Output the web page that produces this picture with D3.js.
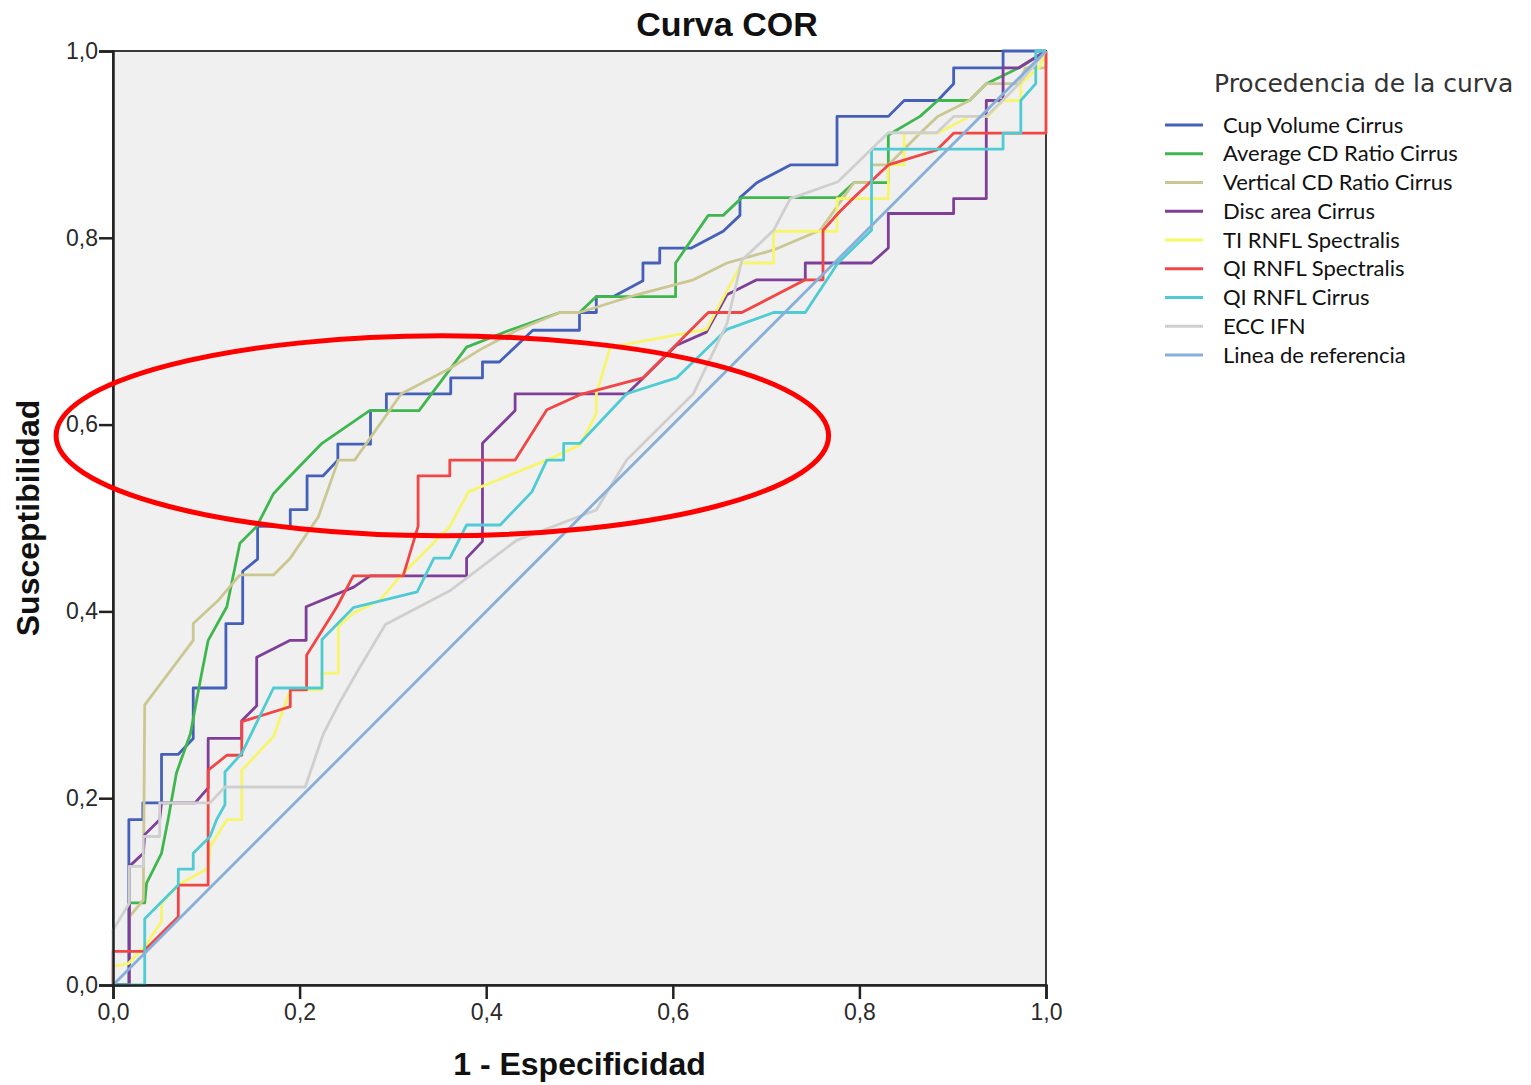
<!DOCTYPE html>
<html lang="es">
<head>
<meta charset="utf-8">
<title>Curva COR</title>
<script src="https://cdn.jsdelivr.net/npm/d3@7"></script>
<style>
    body { margin: 0; background: #ffffff; }
    svg { display: block; }
</style>
</head>
<body>
<script>
    // tick values of both axes
    var xTicks = [0, 0.2, 0.4, 0.6, 0.8, 1.0];
    var yTicks = [0, 0.2, 0.4, 0.6, 0.8, 1.0];

    var seriesNames = [
        "Cup Volume Cirrus",
        "Average CD Ratio Cirrus",
        "Vertical CD Ratio Cirrus",
        "Disc area Cirrus",
        "TI RNFL Spectralis",
        "QI RNFL Spectralis",
        "QI RNFL Cirrus",
        "ECC IFN",
        "Linea de referencia"
    ];

    // [1 - especificidad, susceptibilidad]
    var cupVolume = [[0,0],[0.017,0],[0.017,0.177],[0.032,0.177],[0.032,0.195],[0.052,0.195],[0.052,0.247],[0.070,0.247],[0.086,0.264],[0.086,0.318],[0.121,0.318],[0.121,0.387],[0.139,0.387],[0.139,0.443],[0.155,0.456],[0.155,0.491],[0.190,0.491],[0.190,0.509],[0.208,0.509],[0.208,0.545],[0.225,0.545],[0.241,0.562],[0.241,0.579],[0.276,0.579],[0.276,0.615],[0.293,0.615],[0.293,0.633],[0.362,0.633],[0.362,0.650],[0.396,0.650],[0.396,0.667],[0.414,0.667],[0.450,0.701],[0.500,0.701],[0.500,0.720],[0.518,0.720],[0.518,0.737],[0.536,0.737],[0.568,0.754],[0.568,0.773],[0.586,0.773],[0.586,0.789],[0.620,0.789],[0.654,0.807],[0.672,0.824],[0.672,0.843],[0.690,0.859],[0.726,0.878],[0.776,0.878],[0.776,0.930],[0.831,0.930],[0.848,0.947],[0.884,0.947],[0.901,0.965],[0.901,0.982],[0.954,0.982],[0.954,1],[1,1]];
    var averageCD = [[0,0],[0.0175,0],[0.0175,0.088],[0.034,0.088],[0.036,0.109],[0.052,0.141],[0.059,0.177],[0.068,0.227],[0.083,0.269],[0.093,0.323],[0.102,0.369],[0.122,0.405],[0.136,0.473],[0.154,0.491],[0.172,0.526],[0.186,0.541],[0.224,0.580],[0.275,0.615],[0.328,0.615],[0.379,0.683],[0.425,0.701],[0.479,0.720],[0.500,0.720],[0.518,0.737],[0.603,0.737],[0.603,0.773],[0.638,0.824],[0.654,0.824],[0.674,0.843],[0.777,0.843],[0.794,0.859],[0.831,0.859],[0.831,0.910],[0.865,0.930],[0.884,0.947],[0.918,0.947],[0.936,0.965],[0.971,0.982],[1,1]];
    var verticalCD = [[0,0],[0.0175,0],[0.0175,0.073],[0.0325,0.091],[0.034,0.300],[0.086,0.369],[0.086,0.387],[0.113,0.412],[0.136,0.439],[0.172,0.439],[0.190,0.457],[0.220,0.501],[0.2415,0.562],[0.259,0.562],[0.309,0.633],[0.361,0.660],[0.393,0.680],[0.433,0.701],[0.479,0.720],[0.500,0.720],[0.561,0.739],[0.622,0.755],[0.658,0.773],[0.708,0.787],[0.758,0.808],[0.794,0.859],[0.813,0.859],[0.813,0.878],[0.831,0.878],[0.865,0.912],[0.884,0.930],[0.918,0.947],[0.936,0.965],[0.971,0.965],[0.978,0.982],[1,0.982],[1,1]];
    var discArea = [[0,0],[0.0175,0],[0.0175,0.127],[0.0325,0.141],[0.034,0.161],[0.050,0.177],[0.052,0.195],[0.088,0.195],[0.102,0.211],[0.102,0.264],[0.138,0.264],[0.138,0.283],[0.154,0.299],[0.154,0.351],[0.190,0.369],[0.207,0.369],[0.207,0.405],[0.258,0.426],[0.2755,0.438],[0.379,0.438],[0.379,0.457],[0.396,0.475],[0.396,0.580],[0.431,0.615],[0.431,0.633],[0.551,0.633],[0.604,0.685],[0.636,0.699],[0.658,0.739],[0.690,0.755],[0.742,0.755],[0.742,0.773],[0.813,0.773],[0.831,0.789],[0.831,0.826],[0.901,0.826],[0.901,0.842],[0.936,0.842],[0.936,0.947],[0.954,0.947],[0.954,0.982],[0.971,0.982],[1,1]];
    var tiSpectralis = [[0,0],[0,0.020],[0.0165,0.023],[0.034,0.041],[0.052,0.068],[0.052,0.0875],[0.070,0.107],[0.102,0.125],[0.104,0.148],[0.122,0.177],[0.138,0.177],[0.138,0.230],[0.172,0.266],[0.190,0.316],[0.224,0.316],[0.224,0.334],[0.2415,0.334],[0.2415,0.384],[0.2575,0.398],[0.286,0.412],[0.3075,0.437],[0.361,0.491],[0.381,0.528],[0.465,0.562],[0.5005,0.578],[0.518,0.612],[0.518,0.633],[0.533,0.683],[0.636,0.702],[0.674,0.773],[0.708,0.773],[0.708,0.807],[0.776,0.807],[0.776,0.842],[0.831,0.842],[0.831,0.878],[0.848,0.878],[0.848,0.912],[0.884,0.912],[0.918,0.930],[0.938,0.930],[0.954,0.947],[0.973,0.947],[0.973,0.965],[0.993,0.983],[1,1]];
    var qiSpectralis = [[0,0],[0,0.036],[0.0325,0.036],[0.070,0.073],[0.070,0.107],[0.102,0.107],[0.102,0.230],[0.122,0.246],[0.138,0.246],[0.138,0.282],[0.190,0.298],[0.190,0.316],[0.2075,0.316],[0.2075,0.353],[0.240,0.405],[0.2575,0.438],[0.311,0.438],[0.327,0.491],[0.327,0.545],[0.361,0.545],[0.361,0.562],[0.431,0.562],[0.465,0.616],[0.5005,0.632],[0.568,0.650],[0.638,0.720],[0.674,0.720],[0.742,0.755],[0.761,0.755],[0.761,0.808],[0.777,0.826],[0.795,0.844],[0.831,0.878],[0.883,0.894],[0.901,0.912],[1,0.912],[1,1]];
    var qiCirrus = [[0,0],[0.034,0],[0.034,0.071],[0.070,0.107],[0.070,0.124],[0.086,0.124],[0.086,0.141],[0.104,0.159],[0.111,0.177],[0.120,0.193],[0.120,0.228],[0.138,0.248],[0.172,0.318],[0.224,0.318],[0.224,0.370],[0.2575,0.404],[0.326,0.421],[0.344,0.457],[0.361,0.457],[0.379,0.4925],[0.415,0.4925],[0.449,0.528],[0.465,0.562],[0.483,0.562],[0.483,0.580],[0.5005,0.580],[0.5505,0.633],[0.604,0.650],[0.658,0.702],[0.708,0.720],[0.742,0.720],[0.777,0.773],[0.813,0.808],[0.813,0.895],[0.954,0.895],[0.954,0.912],[0.973,0.912],[0.973,0.947],[0.989,0.965],[0.989,1],[1,1]];
    var eccIfn = [[0,0],[0,0.059],[0.0175,0.0875],[0.0175,0.127],[0.0325,0.127],[0.0325,0.159],[0.050,0.159],[0.050,0.195],[0.104,0.195],[0.120,0.212],[0.206,0.212],[0.2255,0.269],[0.2415,0.300],[0.265,0.341],[0.292,0.386],[0.361,0.422],[0.4325,0.476],[0.518,0.5085],[0.5505,0.562],[0.622,0.633],[0.658,0.708],[0.674,0.776],[0.708,0.808],[0.726,0.842],[0.777,0.860],[0.831,0.9125],[0.883,0.9125],[0.901,0.930],[0.936,0.930],[0.954,0.9475],[0.971,0.965],[1,1]];
    var referenceLine = [[0,0],[1,1]];

    var seriesData = [cupVolume, averageCD, verticalCD, discArea, tiSpectralis, qiSpectralis, qiCirrus, eccIfn, referenceLine];
    var seriesColors = ["#4560b9", "#3fb74e", "#cbc792", "#7f3f98", "#f7f56c", "#f24646", "#4ecbd3", "#cfcfcf", "#86afd9"];

    // red highlight ellipse, in chart units
    var highlight = { cx: 0.353, cy: 0.588, rx: 0.414, ry: 0.107 };

    var width = 1531;
    var height = 1085;
    var plot = { left: 113, right: 1046, top: 51, bottom: 985 };

    var x = d3.scaleLinear().domain([0, 1]).range([plot.left, plot.right]);
    var y = d3.scaleLinear().domain([0, 1]).range([plot.bottom, plot.top]);
    var fmt = function (d) { return d.toFixed(1).replace(".", ","); };

    var svg = d3.select("body").append("svg")
        .attr("width", width)
        .attr("height", height);

    svg.append("rect")
        .attr("x", plot.left)
        .attr("y", plot.top)
        .attr("width", plot.right - plot.left)
        .attr("height", plot.bottom - plot.top)
        .attr("fill", "#f0f0f0")
        .attr("stroke", "#3a3a3a")
        .attr("stroke-width", 2);

    var line = d3.line()
        .x(function (d) { return x(d[0]); })
        .y(function (d) { return y(d[1]); });

    svg.append("g").selectAll("path")
        .data(seriesData)
        .enter()
        .append("path")
        .attr("d", line)
        .attr("fill", "none")
        .attr("stroke", function (d, i) { return seriesColors[i]; })
        .attr("stroke-width", 2.8)
        .attr("stroke-linejoin", "round");

    var xAxis = svg.append("g")
        .attr("transform", "translate(0," + plot.bottom + ")")
        .call(d3.axisBottom(x).tickValues(xTicks).tickFormat(fmt).tickSize(14).tickPadding(5));

    var yAxis = svg.append("g")
        .attr("transform", "translate(" + plot.left + ",0)")
        .call(d3.axisLeft(y).tickValues(yTicks).tickFormat(fmt).tickSize(14).tickPadding(1));

    [xAxis, yAxis].forEach(function (g) {
        g.select(".domain").attr("stroke", "#222").attr("stroke-width", 2.5);
        g.selectAll(".tick line").attr("stroke", "#222").attr("stroke-width", 2.5);
        g.selectAll(".tick text")
            .attr("fill", "#2a2a2a")
            .style("font-family", "'Liberation Sans', Arial, sans-serif")
            .style("font-size", "23px");
    });

    svg.append("ellipse")
        .attr("cx", x(highlight.cx))
        .attr("cy", y(highlight.cy))
        .attr("rx", x(highlight.rx) - x(0))
        .attr("ry", y(0) - y(highlight.ry))
        .attr("fill", "none")
        .attr("stroke", "#ff0000")
        .attr("stroke-width", 5);

    svg.append("text")
        .attr("x", 727)
        .attr("y", 36)
        .attr("text-anchor", "middle")
        .style("font-family", "'Liberation Sans', Arial, sans-serif")
        .style("font-weight", "bold")
        .style("font-size", "34px")
        .attr("fill", "#111")
        .text("Curva COR");

    svg.append("text")
        .attr("x", (plot.left + plot.right) / 2)
        .attr("y", 1075)
        .attr("text-anchor", "middle")
        .style("font-family", "'Liberation Sans', Arial, sans-serif")
        .style("font-weight", "bold")
        .style("font-size", "32px")
        .attr("fill", "#111")
        .text("1 - Especificidad");

    svg.append("text")
        .attr("transform", "translate(39," + (plot.top + plot.bottom) / 2 + ")rotate(-90)")
        .attr("text-anchor", "middle")
        .style("font-family", "'Liberation Sans', Arial, sans-serif")
        .style("font-weight", "bold")
        .style("font-size", "32px")
        .attr("fill", "#111")
        .text("Susceptibilidad");

    // legend
    var legend = svg.append("g").attr("transform", "translate(1165,0)");

    legend.append("text")
        .attr("x", 49)
        .attr("y", 92)
        .style("font-family", "'DejaVu Sans', sans-serif")
        .style("font-size", "25px")
        .attr("fill", "#333")
        .text("Procedencia de la curva");

    var item = legend.selectAll("g.item")
        .data(seriesNames)
        .enter()
        .append("g")
        .attr("class", "item")
        .attr("transform", function (d, i) { return "translate(0," + (125 + i * 28.75) + ")"; });

    item.append("line")
        .attr("x1", 0)
        .attr("x2", 38)
        .attr("stroke", function (d, i) { return seriesColors[i]; })
        .attr("stroke-width", 3);

    item.append("text")
        .attr("x", 58)
        .attr("dy", "0.35em")
        .style("font-family", "Lato, sans-serif")
        .style("font-size", "22px")
        .attr("fill", "#111")
        .text(function (d) { return d; });
</script>
</body>
</html>
